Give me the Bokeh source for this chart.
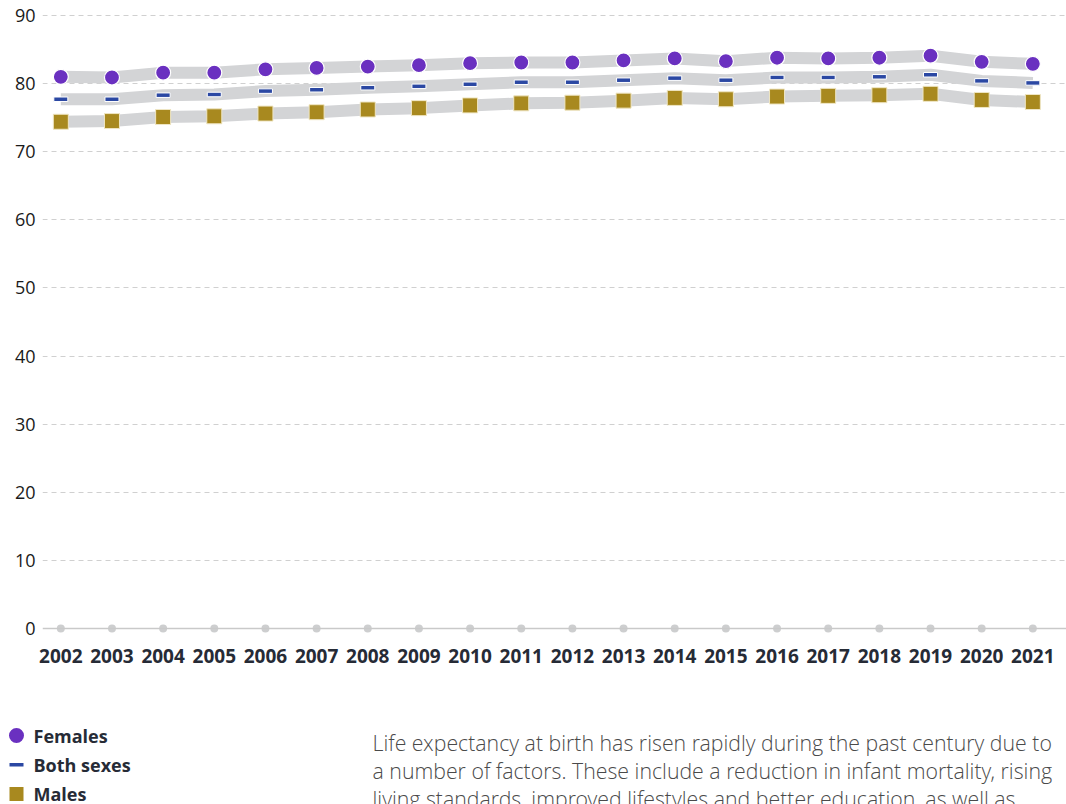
from bokeh.plotting import figure
from bokeh.models import Range1d, FixedTicker, Span
from bokeh.core.properties import value
from bokeh.embed import file_html
from bokeh.resources import INLINE

# ---- data ----
years = list(range(2002, 2022))
females = [81.0, 80.9, 81.6, 81.6, 82.1, 82.3, 82.5, 82.7, 83.0, 83.1,
           83.1, 83.4, 83.7, 83.3, 83.8, 83.7, 83.8, 84.1, 83.2, 82.9]
both_sexes = [77.7, 77.7, 78.3, 78.4, 78.9, 79.1, 79.4, 79.6, 79.9, 80.2,
              80.2, 80.5, 80.8, 80.5, 80.9, 80.9, 81.0, 81.3, 80.4, 80.1]
males = [74.4, 74.5, 75.1, 75.2, 75.6, 75.8, 76.2, 76.4, 76.8, 77.1,
         77.2, 77.5, 77.9, 77.7, 78.1, 78.2, 78.3, 78.5, 77.6, 77.3]
baseline = [0] * len(years)
y_ticks = list(range(0, 100, 10))
legend_labels = ["Females", "Both sexes", "Males"]
paragraph = [
    "Life expectancy at birth has risen rapidly during the past century due to",
    "a number of factors. These include a reduction in infant mortality, rising",
    "living standards, improved lifestyles and better education, as well as",
]

# ---- style ----
C_FEM = "#6a30c0"
C_BOTH = "#2b48a3"
C_MALE = "#a8891f"
C_BAND = "#d3d4d6"
C_TEXT = "#262b36"
FONT = "Open Sans"

W = 1066
H1 = 700
H2 = 104

p = figure(width=W, height=H1,
           x_range=Range1d(2001.642, 2021.658),
           y_range=Range1d(-0.881, 90.734),
           output_backend="svg", toolbar_location=None,
           min_border_left=42, min_border_right=0,
           min_border_top=10, min_border_bottom=66)
p.outline_line_color = None
p.background_fill_color = "white"
p.border_fill_color = "white"

# axes
p.xaxis.ticker = FixedTicker(ticks=years)
p.xaxis.major_label_text_font = FONT
p.xaxis.major_label_text_font_style = "bold"
p.xaxis.major_label_text_font_size = "19px"
p.xaxis.major_label_text_color = C_TEXT
p.xaxis.major_label_standoff = 14
p.yaxis.ticker = FixedTicker(ticks=y_ticks)
p.yaxis.major_label_text_font = FONT
p.yaxis.major_label_text_font_size = "18px"
p.yaxis.major_label_text_color = "#1a1a1a"
p.yaxis.major_label_standoff = 7
for ax in (p.xaxis, p.yaxis):
    ax.axis_line_color = None
    ax.major_tick_line_color = None
    ax.minor_tick_line_color = None
    ax.major_tick_in = 0
    ax.major_tick_out = 0

p.xgrid.grid_line_color = None
p.ygrid.ticker = FixedTicker(ticks=y_ticks[1:])
p.ygrid.grid_line_color = "#d0d0d0"
p.ygrid.grid_line_dash = "5 4"
p.ygrid.grid_line_width = 1

p.add_layout(Span(location=0, dimension="width", line_color="#c9c9c9", line_width=1.5))
p.scatter(years, baseline, marker="circle", size=8, fill_color="#cdcecf", line_color=None)

# grey bands
for vals in (females, both_sexes, males):
    p.line(years, vals, line_width=12, line_color=C_BAND, line_cap="butt", line_join="round")

# markers
p.scatter(years, females, marker="circle", size=15, fill_color=C_FEM,
          line_color="white", line_width=1.2)
p.rect(years, both_sexes, width=14, height=4.5, width_units="screen", height_units="screen",
       fill_color=C_BOTH, line_color="white", line_width=1)
p.scatter(years, males, marker="square", size=15, fill_color=C_MALE,
          line_color="#efe6c4", line_width=1)

# ---- bottom: legend + paragraph ----
q = figure(width=W, height=H2, x_range=Range1d(0, W), y_range=Range1d(H2, 0),
           output_backend="svg", toolbar_location=None,
           x_axis_location=None, y_axis_location=None,
           min_border=0, min_border_left=0, min_border_right=0,
           min_border_top=0, min_border_bottom=0)
q.outline_line_color = None
q.grid.visible = False
q.background_fill_color = "white"
q.border_fill_color = "white"

row_y = [35 + 29.2 * i for i in range(len(legend_labels))]
mx = 16
q.scatter([mx], [row_y[0]], marker="circle", size=15, fill_color=C_FEM, line_color=None)
q.rect([mx], [row_y[1]], width=14, height=3.5, fill_color=C_BOTH, line_color=None)
q.scatter([mx], [row_y[2]], marker="square", size=14, fill_color=C_MALE, line_color=None)
q.text([33] * len(legend_labels), row_y, text=legend_labels,
       text_font=value(FONT), text_font_style="bold", text_font_size="18px",
       text_color=C_TEXT, text_baseline="middle", text_align="left")

para_y = [41.5 + 28.0 * i for i in range(len(paragraph))]
q.text([372] * len(paragraph), para_y, text=paragraph,
       text_font=value("'Open Sans Light', 'Open Sans'"), text_font_size="21.3px",
       text_color="#4a4a4a", text_baseline="alphabetic", text_align="left")

open("out.html", "w").write(file_html([p, q], INLINE))
